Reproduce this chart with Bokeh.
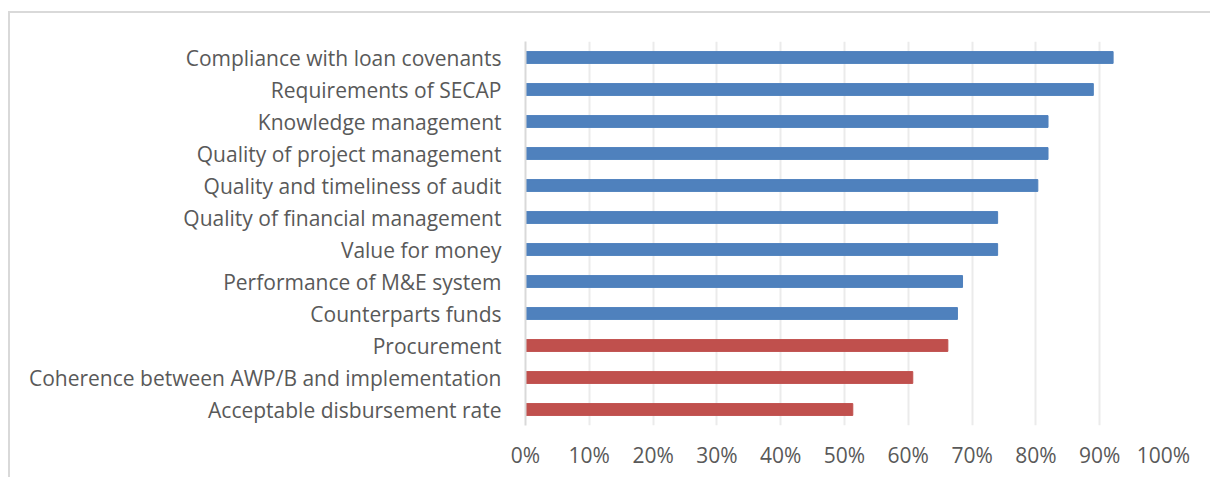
from bokeh.plotting import figure
from bokeh.models import FactorRange, Range1d, ColumnDataSource, NumeralTickFormatter, FixedTicker
from bokeh.embed import file_html
from bokeh.resources import INLINE

categories = [
    "Compliance with loan covenants",
    "Requirements of SECAP",
    "Knowledge management",
    "Quality of project management",
    "Quality and timeliness of audit",
    "Quality of financial management",
    "Value for money",
    "Performance of M&E system",
    "Counterparts funds",
    "Procurement",
    "Coherence between AWP/B and implementation",
    "Acceptable disbursement rate",
]
values = [0.921, 0.890, 0.819, 0.819, 0.803, 0.740, 0.740, 0.685, 0.677, 0.662, 0.607, 0.513]
groups = ["ok"] * 9 + ["low"] * 3
group_colors = {"ok": "#4F81BD", "low": "#C0504D"}
x_ticks = [0, 0.1, 0.2, 0.3, 0.4, 0.5, 0.6, 0.7, 0.8, 0.9, 1.0]

colors = [group_colors[g] for g in groups]
src = ColumnDataSource(dict(cat=categories, val=values, color=colors))

FONT = "Open Sans"
TXT = "#595959"

p = figure(
    width=1202, height=466,
    y_range=FactorRange(factors=list(reversed(categories))),
    x_range=Range1d(0, 1.0),
    output_backend="svg", toolbar_location=None,
)
p.min_border_left = 515
p.min_border_right = 49
p.min_border_top = 28
p.min_border_bottom = 54

p.hbar(y="cat", right="val", left=0, height=0.37, color="color", source=src)

p.outline_line_color = None
p.background_fill_color = "white"
p.border_fill_color = "white"
p.styles = {"border-left": "2px solid #D9D9D9", "border-top": "2px solid #D9D9D9",
            "margin-top": "11px", "margin-left": "8px"}

p.xgrid.ticker = FixedTicker(ticks=x_ticks)
p.xgrid.grid_line_color = "#EBEBEB"
p.xgrid.grid_line_width = 2
p.ygrid.grid_line_color = None

p.xaxis.ticker = FixedTicker(ticks=x_ticks)
p.xaxis.formatter = NumeralTickFormatter(format="0%")
p.xaxis.axis_line_color = None
p.xaxis.major_tick_line_color = None
p.xaxis.minor_tick_line_color = None
p.xaxis.major_label_standoff = 9
p.xaxis.major_label_text_font = FONT
p.xaxis.major_label_text_font_size = "21px"
p.xaxis.major_label_text_color = TXT

p.yaxis.axis_line_color = "#D9D9D9"
p.yaxis.axis_line_width = 2
p.yaxis.major_tick_line_color = None
p.yaxis.minor_tick_line_color = None
p.yaxis.major_label_standoff = 18
p.yaxis.major_label_text_font = FONT
p.yaxis.major_label_text_font_size = "21px"
p.yaxis.major_label_text_color = TXT

open("out.html", "w").write(file_html(p, INLINE))
